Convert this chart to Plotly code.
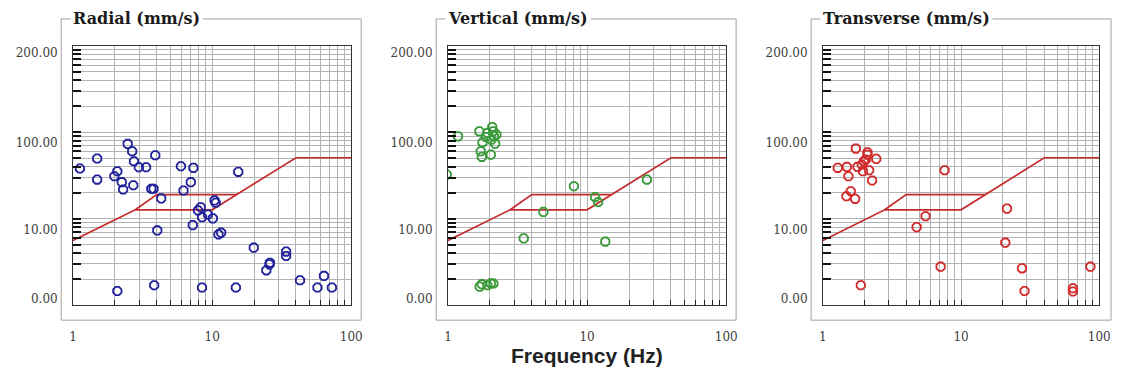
import plotly.graph_objects as go

# Peak particle velocity (mm/s) against dominant frequency (Hz), per component
radial_freq = [1.12, 1.49, 1.49, 2.08, 1.98, 2.24, 2.29, 2.08, 2.47, 2.66, 2.74, 2.71,
               2.97, 3.35, 3.65, 3.79, 3.90, 4.30, 4.03, 3.83, 5.96, 6.22, 7.02, 7.33,
               7.25, 7.91, 8.27, 8.45, 8.45, 9.32, 10.1, 10.4, 10.6, 11.1, 11.6, 15.4,
               14.8, 19.9, 24.5, 25.8, 26.0, 34.0, 34.0, 42.8, 57.1, 63.6, 72.5]
radial_ppv = [38.1, 49.7, 28.4, 35.4, 31.0, 26.5, 21.8, 1.46, 73.4, 60.3, 46.2, 24.4,
              39.4, 39.4, 22.2, 22.2, 54.2, 17.2, 7.33, 1.70, 40.5, 21.2, 26.5, 38.8,
              8.44, 12.5, 13.6, 10.4, 1.60, 11.2, 10.1, 16.3, 15.3, 6.59, 6.90, 34.9,
              1.60, 4.63, 2.53, 2.97, 3.10, 4.17, 3.71, 1.94, 1.60, 2.18, 1.60]

vertical_freq = [0.98, 1.18, 1.68, 1.77, 1.72, 1.75, 1.87, 1.92, 2.03, 2.08, 2.11, 2.14,
                 2.18, 2.23, 2.05, 1.69, 1.75, 1.92, 2.03, 2.12, 3.50, 4.85, 8.04, 11.4,
                 12.0, 13.5, 26.9]
vertical_ppv = [32.5, 89.8, 102.6, 76.6, 60.3, 52.0, 88.4, 98.4, 55.2, 115.0, 102.6, 89.8,
                74.0, 94.0, 82.0, 1.64, 1.75, 1.70, 1.79, 1.78, 5.93, 12.0, 23.8, 17.8,
                15.6, 5.43, 28.4]

transverse_freq = [1.28, 1.49, 1.53, 1.59, 1.48, 1.71, 1.73, 1.78, 1.91, 1.98, 1.95, 2.10,
                   2.10, 2.04, 2.16, 2.27, 2.43, 1.88, 4.77, 5.53, 7.11, 7.60, 20.9, 21.5,
                   27.6, 28.8, 64.5, 64.5, 86.3]
transverse_ppv = [38.8, 39.8, 31.0, 20.8, 18.2, 17.0, 64.8, 39.8, 42.4, 46.2, 35.4, 58.7,
                  55.0, 48.4, 36.4, 27.7, 49.3, 1.70, 8.0, 10.7, 2.79, 36.4, 5.29, 13.1,
                  2.67, 1.46, 1.57, 1.44, 2.79]

# Damage-threshold curve (two branches that share the low and high frequency legs)
limit_lower_freq = [1, 2.8, 10, 40, 100]
limit_lower_ppv = [5.6, 12.7, 12.7, 50.8, 50.8]
limit_upper_freq = [2.8, 4, 15]
limit_upper_ppv = [12.7, 19.05, 19.05]

# Axis labelling
x_tick_vals = [1, 10, 100]
x_tick_text = ["1", "10", "100"]
y_tick_vals = [824, 75.4, 7.53, 1.17]
y_tick_text = ["200.00", "100.00", "10.00", "0.00"]

W, H = 1125, 376
PLOT_TOP, PLOT_BOTTOM = 46, 306
FRAME_TOP, FRAME_BOTTOM = 19, 321

# title, x, y, colour, plot-left, plot-right, frame-left, frame-right (px)
panels = [
    ("Radial (mm/s)", radial_freq, radial_ppv, "#22229a", 70, 352, 58, 362),
    ("Vertical (mm/s)", vertical_freq, vertical_ppv, "#3a9a3a", 450, 732, 438, 742),
    ("Transverse (mm/s)", transverse_freq, transverse_ppv, "#d02a2a", 830, 1110, 818, 1122),
]

minor_x = [m * d for d in (1, 10) for m in range(2, 10)]
minor_y = [m * d for d in (1, 10, 100) for m in range(1, 10)][1:]

LINE_RED = "#c42c2c"
GRID = "#b3b3b3"
TICK_FONT = dict(family="DejaVu Serif", size=12, color="#404040")

fig = go.Figure()
shapes = []
annotations = []

for i, (title, fx, fy, color, pl, pr, fl, fr) in enumerate(panels, start=1):
    xa = "x" if i == 1 else f"x{i}"
    ya = "y" if i == 1 else f"y{i}"

    fig.add_trace(go.Scatter(x=limit_lower_freq, y=limit_lower_ppv, xaxis=xa, yaxis=ya,
                             mode="lines", line=dict(color=LINE_RED, width=1.7),
                             hoverinfo="skip", showlegend=False))
    fig.add_trace(go.Scatter(x=limit_upper_freq, y=limit_upper_ppv, xaxis=xa, yaxis=ya,
                             mode="lines", line=dict(color=LINE_RED, width=1.7),
                             hoverinfo="skip", showlegend=False))
    fig.add_trace(go.Scatter(x=fx, y=fy, xaxis=xa, yaxis=ya, mode="markers",
                             marker=dict(symbol="octagon-open", size=9, color=color,
                                         line=dict(color=color, width=1.8)),
                             name=title, showlegend=False))

    xkey = "xaxis" if i == 1 else f"xaxis{i}"
    ykey = "yaxis" if i == 1 else f"yaxis{i}"
    fig.update_layout({
        xkey: dict(
            type="log", range=[0, 2], domain=[pl / W, pr / W], anchor=ya,
            tickmode="array", tickvals=x_tick_vals, ticktext=x_tick_text,
            ticks="inside", ticklen=5, tickcolor="#222", tickfont=TICK_FONT,
            ticklabelstandoff=20,
            showgrid=True, gridcolor=GRID, gridwidth=1,
            minor=dict(tickmode="array", tickvals=minor_x, ticks="inside", ticklen=5,
                       tickcolor="#222", showgrid=True, gridcolor=GRID, gridwidth=1),
            showline=True, linecolor="#333", linewidth=1, mirror=True,
            zeroline=False, fixedrange=True,
        ),
        ykey: dict(
            type="log", range=[0, 3],
            domain=[1 - PLOT_BOTTOM / H, 1 - PLOT_TOP / H], anchor=xa,
            tickmode="array", tickvals=y_tick_vals, ticktext=y_tick_text,
            ticks="", tickfont=TICK_FONT, ticklabelstandoff=12,
            showgrid=False,
            minor=dict(tickmode="array", tickvals=minor_y, ticks="inside", ticklen=8,
                       tickwidth=2, tickcolor="#111", showgrid=True, gridcolor=GRID,
                       gridwidth=1),
            showline=True, linecolor="#333", linewidth=1, mirror=True,
            zeroline=False, fixedrange=True,
        ),
    })

    # panel frame with its caption breaking the top edge
    shapes.append(dict(type="rect", xref="paper", yref="paper",
                       x0=fl / W, x1=fr / W, y0=1 - FRAME_BOTTOM / H, y1=1 - FRAME_TOP / H,
                       line=dict(color="#a0a0a0", width=1), layer="below"))
    annotations.append(dict(text=f"<b>{title}</b>", xref="paper", yref="paper",
                            x=(fl + 9) / W, y=1 - FRAME_TOP / H, xanchor="left",
                            yanchor="middle", showarrow=False, bgcolor="white",
                            borderpad=2,
                            font=dict(family="DejaVu Serif", size=16, color="#1a1a1a")))

annotations.append(dict(text="<b>Frequency (Hz)</b>", xref="paper", yref="paper",
                        x=591 / W, y=1 - 356 / H, xanchor="center", yanchor="middle",
                        showarrow=False,
                        font=dict(family="Liberation Sans", size=21, color="#222")))

fig.update_layout(
    width=W, height=H, margin=dict(l=0, r=0, t=0, b=0),
    paper_bgcolor="white", plot_bgcolor="white",
    shapes=shapes, annotations=annotations, showlegend=False,
)

fig.write_html("out.html")
